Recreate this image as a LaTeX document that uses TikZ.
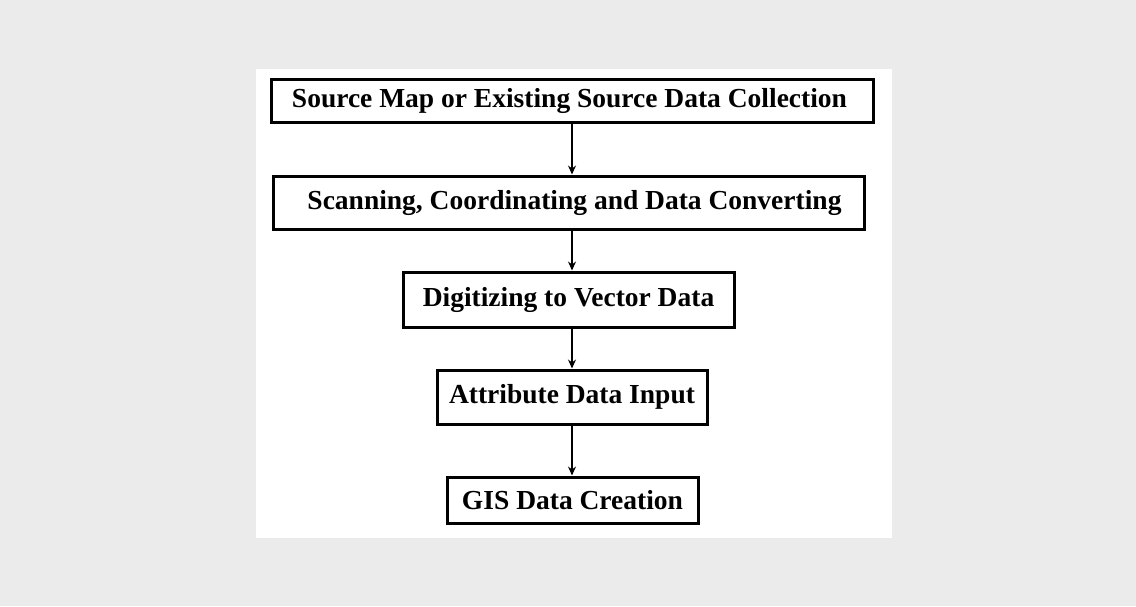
\documentclass[tikz,border=0pt]{standalone}
\usepackage{fontspec}
\setmainfont{Liberation Serif}
\usetikzlibrary{arrows.meta}
\definecolor{bggray}{HTML}{EBEBEB}
\tikzset{
  stepbox/.style={draw=black, line width=3pt, fill=white, inner sep=0pt,
    font=\fontsize{27.5}{30}\selectfont\bfseries, text=black},
  flowarrow/.style={draw=black, line width=1.3pt, -{Stealth[length=9pt,width=8pt]}}
}
\begin{document}
\begin{tikzpicture}[x=1pt,y=-1pt]
\fill[bggray] (0,0) rectangle (1136,606);
\useasboundingbox (0,0) rectangle (1136,606);
\fill[white] (256,69) rectangle (892,538);
\coordinate (ax) at (572,0);
\node[stepbox, minimum width=602pt, minimum height=43pt] (b1) at (572,100.5) {\hspace*{-5pt}Source Map or Existing Source Data Collection};
\node[stepbox, minimum width=591pt, minimum height=53pt] (b2) at (568.5,202.5) {\hspace*{12pt}Scanning, Coordinating and Data Converting};
\node[stepbox, minimum width=331pt, minimum height=55pt] (b3) at (568.5,299.5) {Digitizing to Vector Data};
\node[stepbox, minimum width=270pt, minimum height=54pt] (b4) at (572,397) {Attribute Data Input};
\node[stepbox, minimum width=251pt, minimum height=46pt] (b5) at (572.5,500) {GIS Data Creation};
\draw[flowarrow] (b1.south -| ax) -- (b2.north -| ax);
\draw[flowarrow] (b2.south -| ax) -- (b3.north -| ax);
\draw[flowarrow] (b3.south -| ax) -- (b4.north -| ax);
\draw[flowarrow] (b4.south -| ax) -- (b5.north -| ax);
\end{tikzpicture}
\end{document}
